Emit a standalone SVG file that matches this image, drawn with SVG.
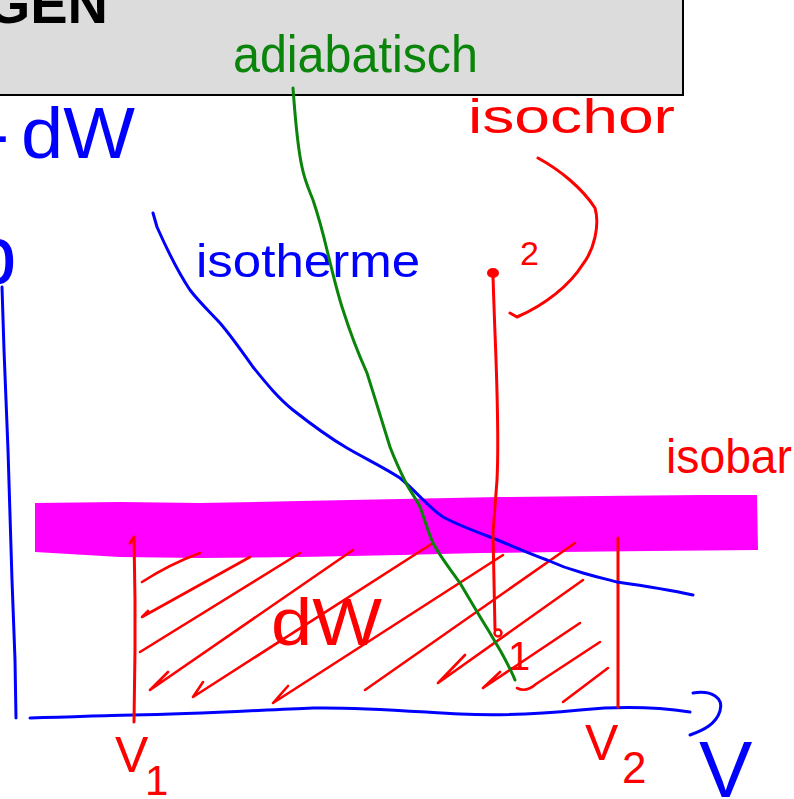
<svg xmlns="http://www.w3.org/2000/svg" width="794" height="799" viewBox="0 0 794 799">
  <style>
    .ink { fill: none; stroke-width: 3; stroke-linecap: round; stroke-linejoin: round; }
    .blue { stroke: #0000ff; }
    .red { stroke: #ff0000; }
    .green { stroke: #0a840a; }
    .hatch { fill: none; stroke: #ff0000; stroke-width: 2.6; stroke-linecap: round; stroke-linejoin: round; }
    .hand { font-family: "Liberation Sans", Arial, sans-serif; }
    .tb { fill: #0000ff; }
    .tr { fill: #ff0000; }
    .tg { fill: #0a840a; }
  </style>

  <rect width="794" height="799" fill="#ffffff"/>

  <!-- slide title bar -->
  <g id="title-bar">
    <rect x="-5" y="-5" width="688" height="100" fill="#dcdcdc" stroke="#000000" stroke-width="2"/>
    <text x="108" y="23" text-anchor="end" font-family="'Liberation Sans', Arial, sans-serif" font-weight="bold" font-size="56" fill="#000000">GEN</text>
  </g>

  <!-- work integral label at top left -->
  <g id="label-dw-top">
    <text class="hand tb" font-size="72" y="158"><tspan x="-15">-</tspan><tspan x="21" textLength="114" lengthAdjust="spacingAndGlyphs">dW</tspan></text>
  </g>

  <!-- p axis label (cut at the edge) and axes -->
  <g id="axes">
    <text class="hand tb" font-size="84" x="-30" y="284">p</text>
    <path class="ink blue" d="M2,287 L4,350 L8,450 L12,580 L15,660 L16,718"/>
    <path class="ink blue" d="M30,718 C80,717 110,715 133,715 C200,714 260,710 313,708 C360,707 420,712 460,714 C500,716 540,714 580,710 C610,707 650,706 690,712"/>
    <path class="ink blue" d="M693,693 C712,690 724,698 720,711 C716,724 704,730 690,735"/>
    <text class="hand tb" font-size="80" x="699" y="797">V</text>
  </g>

  <!-- isobar band -->
  <g id="isobar">
    <path d="M35,503 L120,502 L200,503 L300,501 L400,499 L500,497 L600,496 L700,495 L757,495 L758,550 L650,551 L560,552 L480,553 L400,555 L300,557 L200,558 L120,557 L35,552 Z" fill="#ff00ff"/>
    <text class="hand tr" font-size="48" x="666" y="473" textLength="126" lengthAdjust="spacingAndGlyphs">isobar</text>
  </g>

  <!-- volume markers -->
  <g id="v1">
    <path class="ink red" d="M130,543 L134,537 L135,600 L135,650 L134,722"/>
    <text class="hand tr" font-size="50" x="115" y="772">V</text>
    <text class="hand tr" font-size="42" x="145" y="795">1</text>
  </g>
  <g id="v2">
    <path class="ink red" d="M618,538 L618,620 L618,707"/>
    <text class="hand tr" font-size="50" x="585" y="760">V</text>
    <text class="hand tr" font-size="44" x="622" y="783">2</text>
  </g>

  <!-- hatched work area -->
  <g id="work-area">
    <path class="hatch" d="M142,582 Q170,564 200,553"/>
    <path class="hatch" d="M148,611 L142,617 L250,557"/>
    <path class="hatch" d="M140,652 L300,553"/>
    <path class="hatch" d="M168,672 L150,690 L353,550"/>
    <path class="hatch" d="M203,682 L193,697 L433,543"/>
    <path class="hatch" d="M288,686 L273,703 L503,555"/>
    <path class="hatch" d="M365,690 L575,543"/>
    <path class="hatch" d="M465,655 L438,683 L583,580"/>
    <path class="hatch" d="M500,672 L483,688 L580,623"/>
    <path class="hatch" d="M517,688 Q526,693 536,684 L600,642"/>
    <path class="hatch" d="M563,702 L608,668"/>
    <text class="hand tr" font-size="66" x="271" y="645" textLength="111" lengthAdjust="spacingAndGlyphs">dW</text>
  </g>

  <!-- isotherm -->
  <g id="isotherm">
    <path class="ink blue" d="M153,213 L157,227 C165,245 178,272 190,290 C200,303 210,312 220,323 C232,337 243,353 253,367 C266,383 278,398 293,410 C312,425 330,438 347,448 C366,459 385,468 400,478 C415,490 428,507 443,517 C458,525 474,531 490,537 C510,545 528,553 547,560 C560,566 572,570 583,573 C600,578 610,580 617,582 C645,586 670,590 693,595"/>
    <text class="hand tb" font-size="46" x="196" y="277" textLength="224" lengthAdjust="spacingAndGlyphs">isotherme</text>
  </g>

  <!-- adiabat -->
  <g id="adiabat">
    <path class="ink green" d="M293,88 C295,115 297,145 302,167 C305,182 310,192 313,200 C318,215 323,233 327,250 C332,270 337,292 343,310 C350,332 358,353 367,373 C375,398 383,425 390,447 C395,460 401,473 407,485 C412,494 417,500 420,507 C425,520 428,532 433,543 C441,558 451,570 460,583 C470,600 480,617 490,633 C494,640 497,645 500,650 C506,661 511,670 515,680"/>
    <text class="hand tg" font-size="52" x="233" y="72" textLength="245" lengthAdjust="spacingAndGlyphs">adiabatisch</text>
  </g>

  <!-- isochor -->
  <g id="isochor">
    <path class="ink red" d="M493,275 C495,350 500,420 497,480 L493,533 L495,630"/>
    <ellipse cx="493" cy="273" rx="6" ry="5" fill="#ff0000"/>
    <circle cx="498" cy="633" r="3.5" fill="none" stroke="#ff0000" stroke-width="2.5"/>
    <text class="hand tr" font-size="34" x="520" y="265">2</text>
    <text class="hand tr" font-size="40" x="508" y="670">1</text>
    <path class="ink red" d="M538,158 C560,170 582,188 595,208 C600,225 594,250 583,264 C570,285 545,305 517,317 L510,313"/>
    <text class="hand tr" font-size="48" x="468" y="133" textLength="207" lengthAdjust="spacingAndGlyphs">isochor</text>
  </g>
</svg>
